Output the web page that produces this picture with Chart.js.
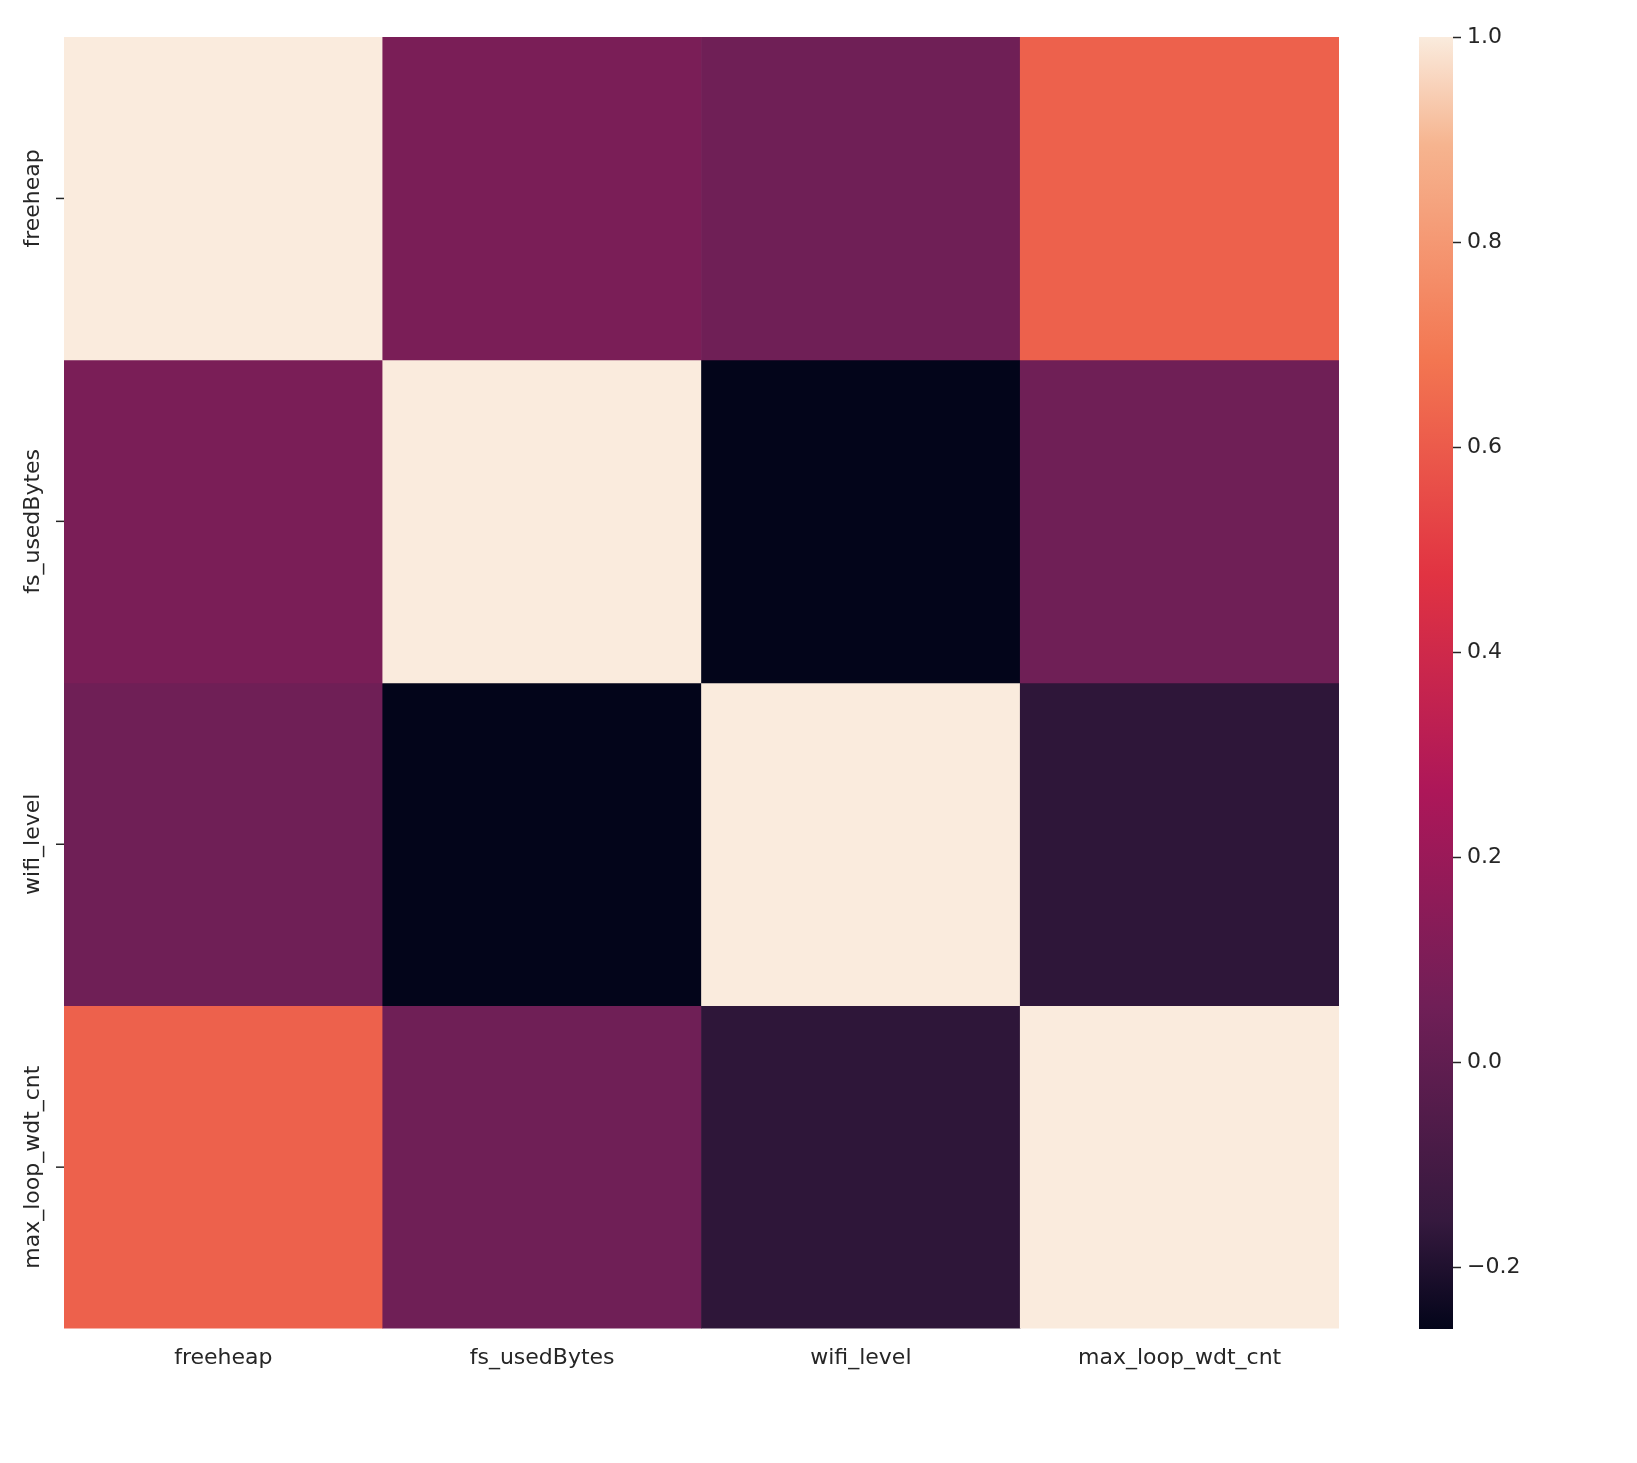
<!DOCTYPE html>
<html><head><meta charset="utf-8">
<script src="https://cdn.jsdelivr.net/npm/chart.js@4"></script>
<style>
body{margin:0;background:#fff;width:1637px;height:1463px;position:relative;overflow:hidden}
#a{position:absolute;left:0;top:0;width:1360px;height:1463px}
#b{position:absolute;left:1380px;top:0;width:257px;height:1463px}
</style></head><body>
<div id="a"><canvas id="heat"></canvas></div>
<div id="b"><canvas id="cbar"></canvas></div>
<script>
const labels = ['freeheap', 'fs_usedBytes', 'wifi_level', 'max_loop_wdt_cnt'];
const corrFreeheap = [1.00, 0.09, 0.05, 0.62];
const corrFsUsed   = [0.09, 1.00, -0.26, 0.05];
const corrWifi     = [0.05, -0.26, 1.00, -0.17];
const corrMaxLoop  = [0.62, 0.05, -0.17, 1.00];
const rows = [corrFreeheap, corrFsUsed, corrWifi, corrMaxLoop];
const cbTicks = [-0.2, 0.0, 0.2, 0.4, 0.6, 0.8, 1.0];
const vmin = -0.26, vmax = 1.0;

// rocket colormap stops
const stops = [[0,'#03051a'],[1/12,'#35193e'],[3/12,'#701f57'],[5/12,'#ad1759'],[7/12,'#e13342'],[9/12,'#f37651'],[11/12,'#f6b48f'],[1,'#faebdd']];
const hex = h => [1,3,5].map(i => parseInt(h.slice(i, i+2), 16));
function cmap(v) {
  const t = Math.min(1, Math.max(0, (v - vmin) / (vmax - vmin)));
  for (let i = 1; i < stops.length; i++) {
    if (t <= stops[i][0]) {
      const [t0, c0] = stops[i-1], [t1, c1] = stops[i];
      const f = (t - t0) / (t1 - t0), a = hex(c0), b = hex(c1);
      return 'rgb(' + a.map((x, k) => Math.round(x + (b[k] - x) * f)).join(',') + ')';
    }
  }
  return stops[stops.length-1][1];
}

const font = { family: 'DejaVu Sans', size: 22 };
Chart.defaults.color = '#262626';

// rotated y labels, drawn like matplotlib
const yLabels = {
  id: 'yLabels',
  afterDraw(c) {
    const ctx = c.ctx, y = c.scales.y, left = c.chartArea.left;
    ctx.save();
    ctx.strokeStyle = '#262626'; ctx.lineWidth = 1.5;
    ctx.font = font.size + 'px ' + font.family; ctx.fillStyle = '#262626';
    labels.forEach((l, i) => {
      const py = y.getPixelForValue(3.5 - i);
      ctx.beginPath(); ctx.moveTo(left - 8, py); ctx.lineTo(left, py); ctx.stroke();
      ctx.save(); ctx.translate(left - 20, py); ctx.rotate(-Math.PI / 2);
      ctx.textAlign = 'center'; ctx.textBaseline = 'bottom';
      ctx.fillText(l, 0, 0); ctx.restore();
    });
    ctx.restore();
  }
};

new Chart(document.getElementById('heat'), {
  type: 'bar',
  data: {
    labels: labels,
    datasets: rows.map((r, i) => ({
      data: labels.map(() => [3 - i, 4 - i]),
      backgroundColor: r.map(cmap),
      borderWidth: 0, categoryPercentage: 1, barPercentage: 1, grouped: false
    }))
  },
  options: {
    responsive: true, maintainAspectRatio: false, animation: false,
    layout: { padding: { left: 64, top: 37, right: 21, bottom: 84 } },
    plugins: { legend: { display: false }, tooltip: { enabled: false } },
    scales: {
      x: { grid: { display: false, drawOnChartArea: false }, border: { display: false },
           ticks: { font: font, color: '#262626', padding: 8 } },
      y: { display: false, min: 0, max: 4 }
    }
  },
  plugins: [yLabels]
});

// colorbar gradient
const gradient = {
  id: 'gradient',
  beforeDatasetsDraw(c) {
    const { ctx, chartArea: a } = c;
    const g = ctx.createLinearGradient(0, a.bottom, 0, a.top);
    stops.forEach(([t, col]) => g.addColorStop(t, col));
    ctx.fillStyle = g;
    ctx.fillRect(a.left, a.top, a.right - a.left, a.bottom - a.top);
  }
};

new Chart(document.getElementById('cbar'), {
  type: 'bar',
  data: { labels: [''], datasets: [{ data: [] }] },
  options: {
    responsive: true, maintainAspectRatio: false, animation: false,
    layout: { padding: { left: 39, top: 37, right: 114, bottom: 134 } },
    plugins: { legend: { display: false }, tooltip: { enabled: false } },
    scales: {
      x: { display: false },
      y: { position: 'right', min: vmin, max: vmax,
           afterBuildTicks: s => { s.ticks = cbTicks.map(v => ({ value: v })); },
           afterFit: s => { s.width = 70; },
           grid: { drawOnChartArea: false, tickLength: 8, color: '#262626', tickWidth: 1.5 },
           border: { display: false },
           ticks: { font: font, color: '#262626', padding: 6,
                    callback: v => (v < 0 ? '\u2212' : '') + Math.abs(v).toFixed(1) } }
    }
  },
  plugins: [gradient]
});
</script>
</body></html>
